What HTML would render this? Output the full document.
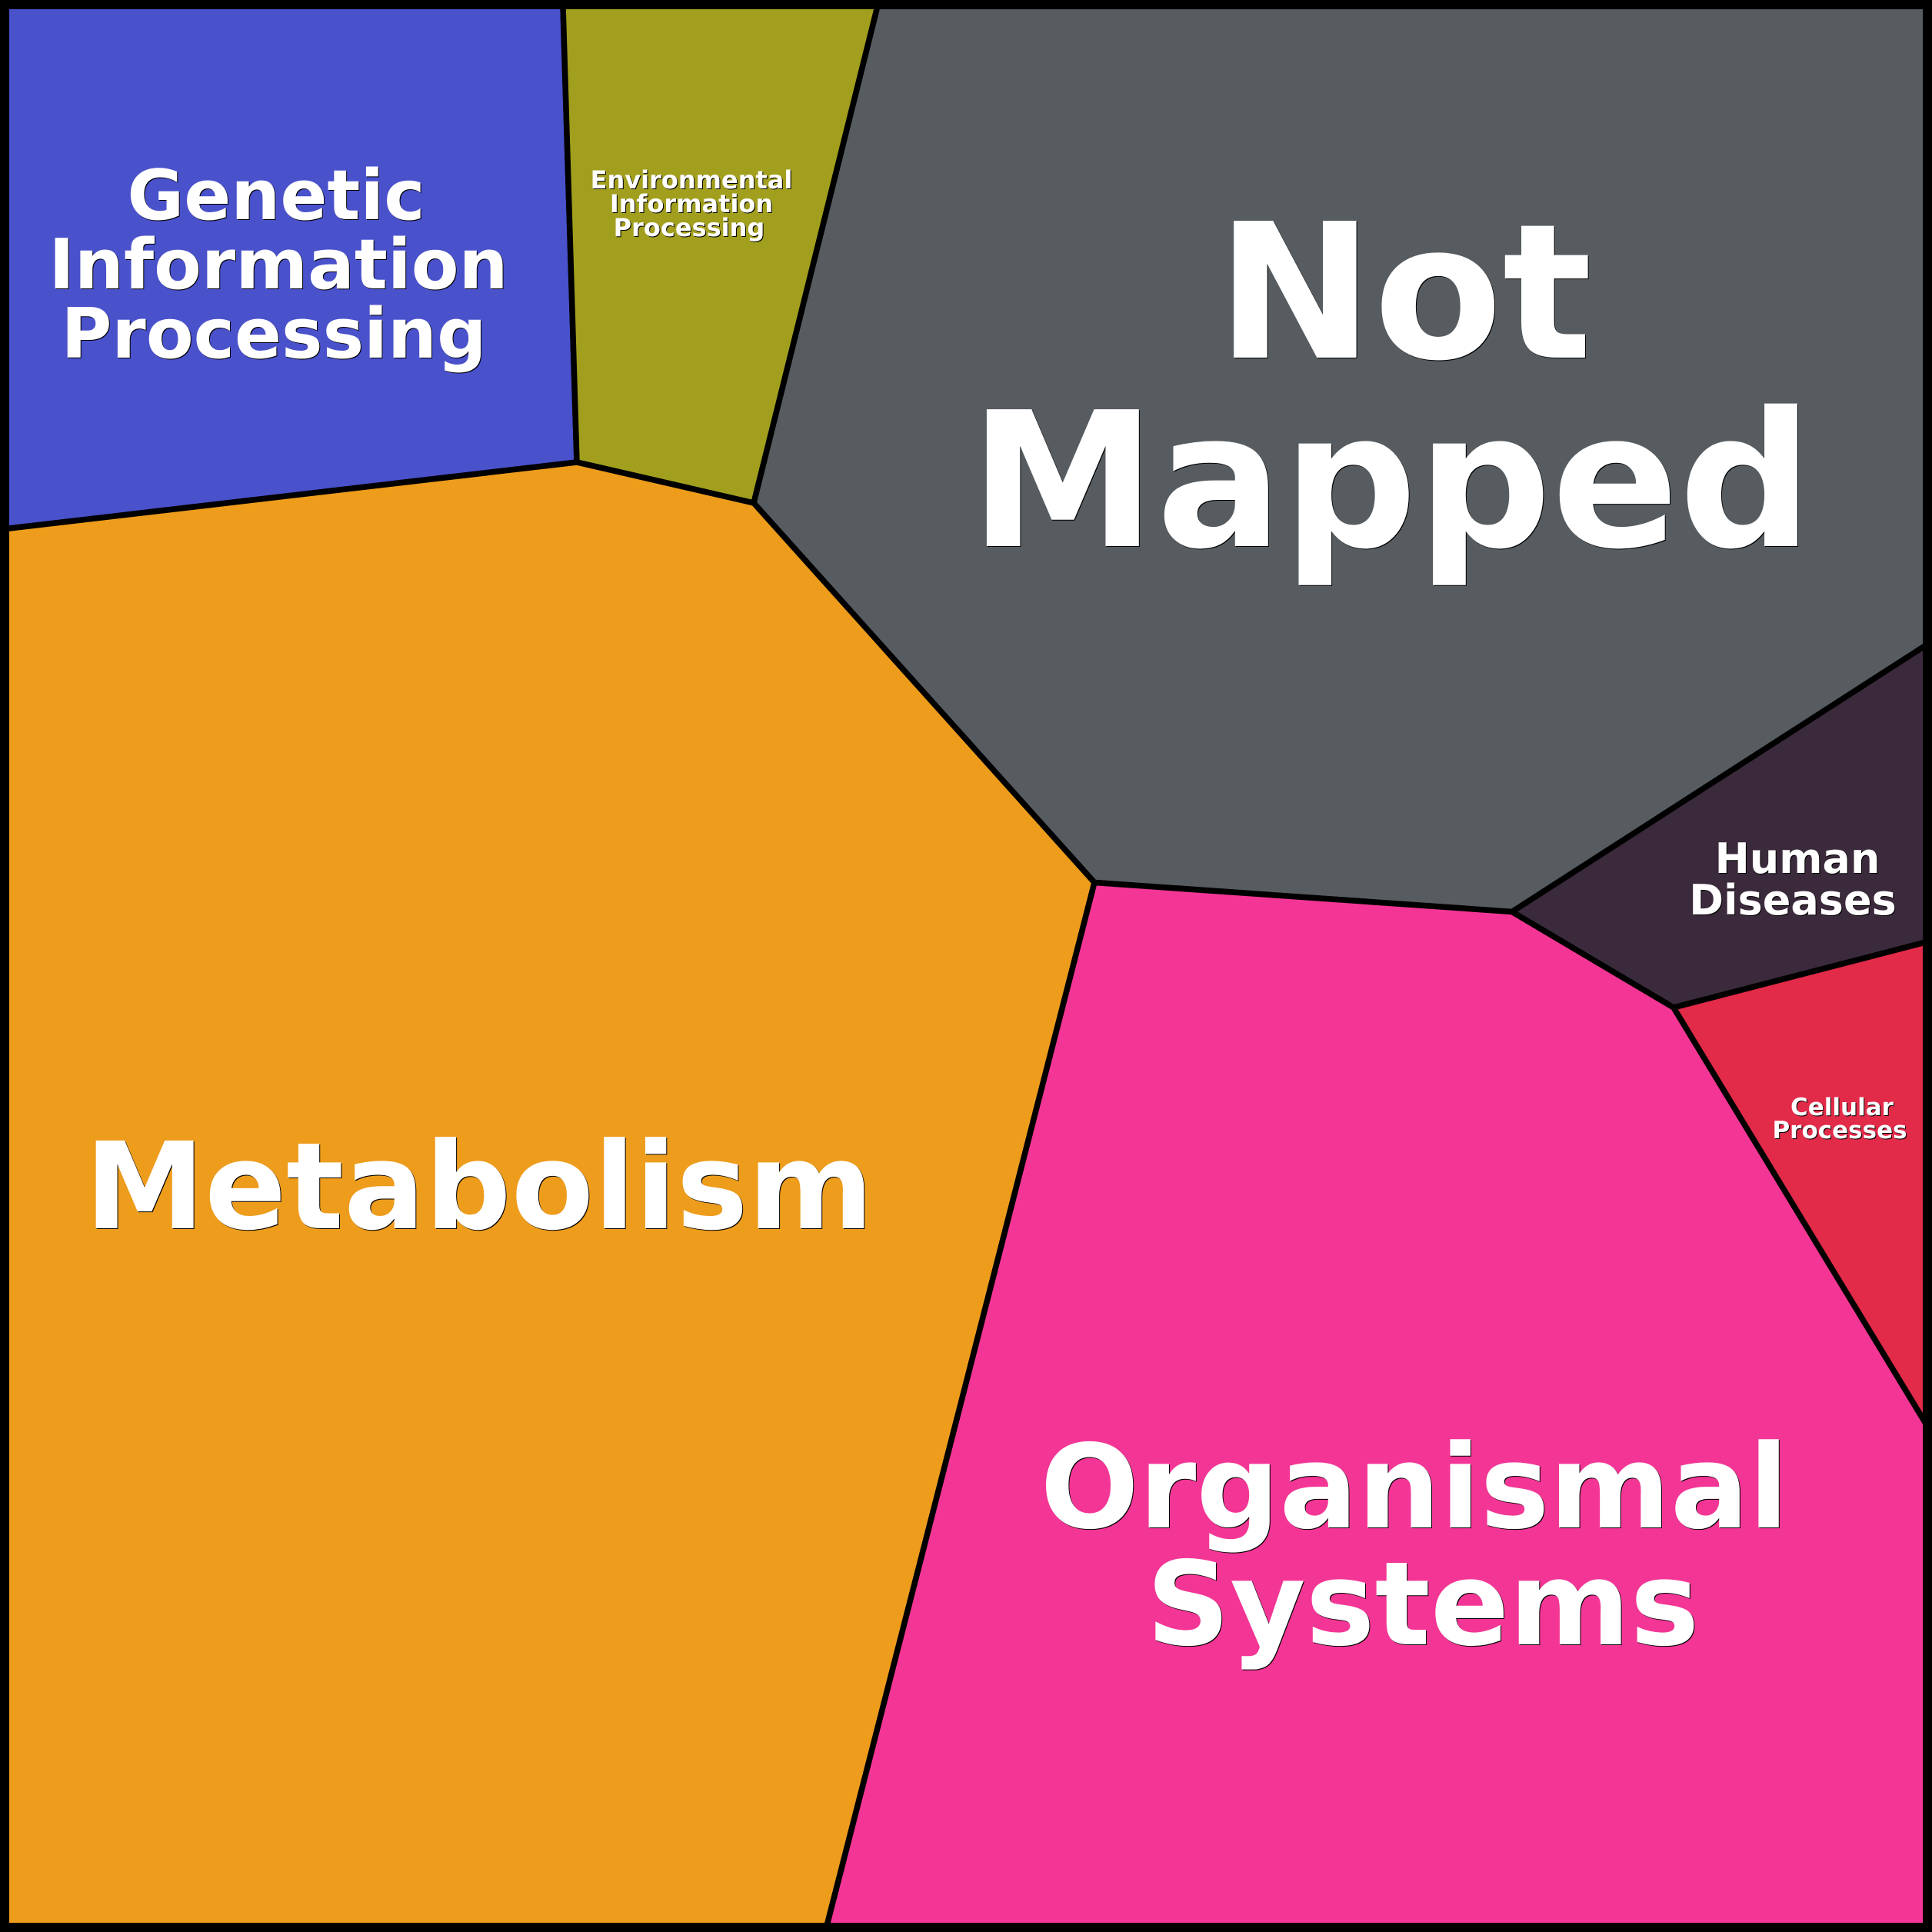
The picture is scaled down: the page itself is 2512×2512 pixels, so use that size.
<!DOCTYPE html>
<html><head><meta charset="utf-8"><style>
html,body{margin:0;padding:0;background:#000;width:2512px;height:2512px;overflow:hidden}
svg{display:block}
text{font-family:"DejaVu Sans",sans-serif;font-weight:700;fill:#fff;text-anchor:middle;filter:drop-shadow(1.5px 1.5px 0 #000)}
polygon{stroke:#000;stroke-width:7.5;stroke-linejoin:miter}
</style></head><body>
<svg width="2512" height="2512" viewBox="0 0 2512 2512" xmlns="http://www.w3.org/2000/svg">
<polygon fill="#4951cb" points="8,8 732,8 750,601 8,687.5"/>
<polygon fill="#a29f1e" points="732,8 1141,8 980,654 750,601"/>
<polygon fill="#565c60" points="1141,8 2504,8 2504,839 1966,1185.5 1423,1147.5 980,654"/>
<polygon fill="#ed9c1c" points="8,687.5 750,601 980,654 1423,1147.5 1075,2504 8,2504"/>
<polygon fill="#f33695" points="1423,1147.5 1966,1185.5 2176,1310 2504,1851 2504,2504 1075,2504"/>
<polygon fill="#3a2a3b" points="2504,839 2504,1225 2176,1310 1966,1185.5"/>
<polygon fill="#e22a49" points="2504,1225 2504,1851 2176,1310"/>
<rect x="6" y="6" width="2500" height="2500" fill="none" stroke="#000" stroke-width="12"/>
<text x="359" y="285" font-size="90">Genetic</text>
<text x="362" y="375" font-size="90">Information</text>
<text x="356" y="465" font-size="90">Processing</text>
<text x="899" y="245" font-size="32">Environmental</text>
<text x="899" y="276" font-size="32">Information</text>
<text x="896" y="307" font-size="32">Processing</text>
<text x="1826" y="465" font-size="244">Not</text>
<text x="1809" y="710" font-size="244">Mapped</text>
<text x="623" y="1597" font-size="156.5">Metabolism</text>
<text x="1839" y="1986" font-size="151">Organismal</text>
<text x="1850" y="2138" font-size="151">Systems</text>
<text x="2337" y="1135" font-size="54">Human</text>
<text x="2331" y="1189" font-size="54">Diseases</text>
<text x="2395" y="1450" font-size="31">Cellular</text>
<text x="2392" y="1480" font-size="31">Processes</text>
</svg>
</body></html>
